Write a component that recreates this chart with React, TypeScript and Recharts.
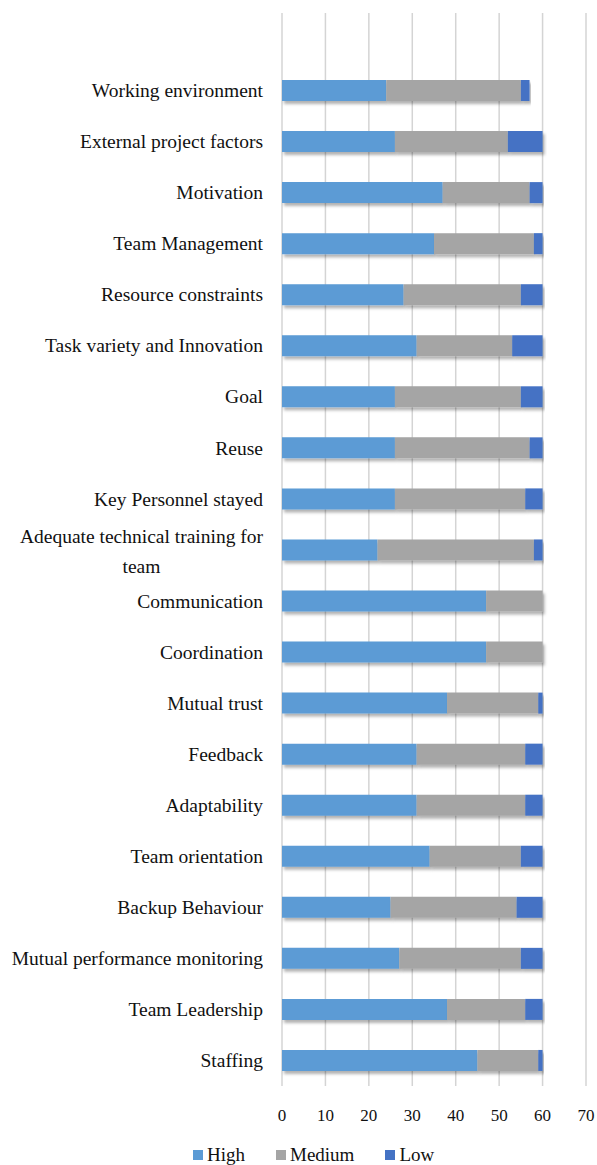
import { BarChart, Bar, XAxis, YAxis, CartesianGrid, Legend } from 'recharts'

const categories = [
  'Working environment',
  'External project factors',
  'Motivation',
  'Team Management',
  'Resource constraints',
  'Task variety and Innovation',
  'Goal',
  'Reuse',
  'Key Personnel stayed',
  'Adequate technical training for team',
  'Communication',
  'Coordination',
  'Mutual trust',
  'Feedback',
  'Adaptability',
  'Team orientation',
  'Backup Behaviour',
  'Mutual performance monitoring',
  'Team Leadership',
  'Staffing',
]
const high = [24, 26, 37, 35, 28, 31, 26, 26, 26, 22, 47, 47, 38, 31, 31, 34, 25, 27, 38, 45]
const medium = [31, 26, 20, 23, 27, 22, 29, 31, 30, 36, 13, 13, 21, 25, 25, 21, 29, 28, 18, 14]
const low = [2, 8, 3, 2, 5, 7, 5, 3, 4, 2, 0, 0, 1, 4, 4, 5, 6, 5, 4, 1]
const xTicks = [0, 10, 20, 30, 40, 50, 60, 70]

const series = [
  { key: 'High', color: '#5b9bd5' },
  { key: 'Medium', color: '#a5a5a5' },
  { key: 'Low', color: '#4472c4' },
]

const FONT = '"Liberation Serif", "Times New Roman", serif'
const LABEL_SIZE = 19.5

const data = categories.map((name, i) => ({
  name,
  High: high[i],
  Medium: medium[i],
  Low: low[i],
}))

let ctx: CanvasRenderingContext2D | null = null
function textWidth(s: string): number {
  if (!ctx) ctx = document.createElement('canvas').getContext('2d')
  if (!ctx) return s.length * 9
  ctx.font = `${LABEL_SIZE}px "Liberation Serif"`
  return ctx.measureText(s).width
}

function wrap(label: string, max = 32): string[] {
  const lines: string[] = []
  let cur = ''
  for (const w of label.split(' ')) {
    if (cur && (cur + ' ' + w).length > max) {
      lines.push(cur)
      cur = w
    } else {
      cur = cur ? cur + ' ' + w : w
    }
  }
  if (cur) lines.push(cur)
  return lines
}

function CategoryTick(props: any) {
  const { x, y, payload } = props
  const lines = wrap(String(payload.value))
  const common = { fontFamily: FONT, fontSize: LABEL_SIZE, fill: '#111' }
  if (lines.length === 1) {
    return (
      <text x={x} y={y} dy="0.34em" textAnchor="end" {...common}>
        {lines[0]}
      </text>
    )
  }
  const cx = x - textWidth(lines[0]) / 2
  return (
    <text textAnchor="middle" {...common}>
      {lines.map((l, i) => (
        <tspan key={i} x={cx} y={y - 14 + i * 30} dy="0.34em">
          {l}
        </tspan>
      ))}
    </text>
  )
}

function LegendContent() {
  return (
    <div
      style={{
        display: 'flex',
        height: 24,
        alignItems: 'center',
        paddingLeft: 193,
        fontFamily: FONT,
        fontSize: 19,
        color: '#111',
      }}
    >
      {series.map((s) => (
        <div key={s.key} style={{ display: 'flex', alignItems: 'center', marginRight: 31 }}>
          <span style={{ width: 10, height: 10, background: s.color, marginRight: 4, display: 'inline-block' }} />
          <span>{s.key}</span>
        </div>
      ))}
    </div>
  )
}

export default function App() {
  return (
    <div style={{ position: 'absolute', left: 0, top: 0, width: 597, height: 1165, overflow: 'hidden', background: '#fff' }}>
      <BarChart
        width={597}
        height={1165}
        data={data}
        layout="vertical"
        margin={{ top: 13, right: 11, bottom: 0, left: 0 }}
        barSize={21}
      >
        <defs>
          <filter id="barShadow" x="-5%" y="-30%" width="115%" height="180%">
            <feDropShadow dx="2" dy="3" stdDeviation="1.5" floodColor="#000" floodOpacity="0.3" />
          </filter>
        </defs>
        <CartesianGrid horizontal={false} stroke="#d4d4d4" strokeWidth={1.5} />
        <XAxis
          type="number"
          domain={[0, 70]}
          ticks={xTicks}
          interval={0}
          axisLine={false}
          tickLine={false}
          tickSize={0}
          tickMargin={23}
          height={55}
          tick={{ fontFamily: FONT, fontSize: 17, fill: '#111' }}
        />
        <YAxis
          type="category"
          dataKey="name"
          width={282}
          axisLine={false}
          tickLine={false}
          tickSize={0}
          tickMargin={19}
          interval={0}
          padding={{ top: 52, bottom: 0 }}
          tick={<CategoryTick />}
        />
        {series.map((s) => (
          <Bar
            key={s.key}
            dataKey={s.key}
            stackId="a"
            fill={s.color}
            filter="url(#barShadow)"
            isAnimationActive={false}
          />
        ))}
        <Legend content={<LegendContent />} verticalAlign="bottom" wrapperStyle={{ bottom: -2, left: 0, width: 597 }} />
      </BarChart>
    </div>
  )
}
